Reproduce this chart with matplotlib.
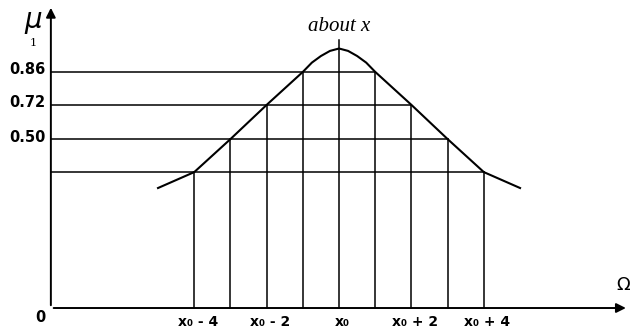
import matplotlib.pyplot as plt

# membership curve "about x", x in units relative to x0, y = drawn height
curve_x = [-5, -4, -3, -2, -1, -0.75, -0.5, -0.25, 0, 0.25, 0.5, 0.75, 1, 2, 3, 4, 5]
curve_y = [0.40, 0.453, 0.563, 0.677, 0.787, 0.818, 0.84, 0.857, 0.865,
           0.857, 0.84, 0.818, 0.787, 0.677, 0.563, 0.453, 0.40]

# grid positions and their levels on the curve
grid_x = [-4, -3, -2, -1, 0, 1, 2, 3, 4]
level_y = [0.453, 0.563, 0.677, 0.787]
level_x_end = [4, 3, 2, 1]
level_labels = ["", "0.50", "0.72", "0.86"]

tick_x = [-4, -2, 0, 2, 4]
tick_labels = ["x\u2080 - 4", "x\u2080 - 2", "x\u2080", "x\u2080 + 2", "x\u2080 + 4"]

axis_x0 = -7.96
lookup = dict(zip(curve_x, curve_y))

fig = plt.figure(figsize=(6.33, 3.30), dpi=100)
ax = fig.add_axes([0, 0, 1, 1])
ax.set_xlim(-9.365, 8.12)
ax.set_ylim(-0.0733, 1.0267)
ax.axis("off")

lw = 1.1
# horizontal level lines from y axis to right side of curve
for y, xe in zip(level_y, level_x_end):
    ax.plot([axis_x0, xe], [y, y], color="black", lw=lw)

# vertical lines from x axis up to the curve (centre one goes a bit higher)
for gx in grid_x:
    top = lookup[gx] + (0.03 if gx == 0 else 0)
    ax.plot([gx, gx], [0, top], color="black", lw=lw)

ax.plot(curve_x, curve_y, color="black", lw=1.5)

# axes with arrows
ax.annotate("", xy=(8.0, 0), xytext=(axis_x0, 0),
            arrowprops=dict(arrowstyle="-|>", color="black", lw=1.4, mutation_scale=14))
ax.annotate("", xy=(axis_x0, 1.01), xytext=(axis_x0, 0),
            arrowprops=dict(arrowstyle="-|>", color="black", lw=1.4, mutation_scale=14))

for y, lab in zip(level_y, level_labels):
    if lab:
        ax.text(axis_x0 - 0.15, y + 0.007, lab, ha="right", va="center",
                fontsize=10.5, fontweight="bold")

for tx, lab in zip(tick_x, tick_labels):
    ax.text(tx + 0.1, -0.045, lab, ha="center", va="center",
            fontsize=10, fontweight="bold")

ax.text(axis_x0 - 0.3, -0.03, "0", ha="center", va="center",
        fontsize=10.5, fontweight="bold")
ax.text(7.85, 0.077, "\u03a9", ha="center", va="center", fontsize=13)
ax.text(-8.45, 0.955, r"$\mu$", ha="center", va="center", fontsize=20)
ax.text(-8.45, 0.885, "1", ha="center", va="center", fontsize=8, family="DejaVu Serif")
ax.text(0, 0.94, "about x", ha="center", va="center", fontsize=15,
        style="italic", family="Liberation Serif")

fig.savefig("out.png", dpi=100)
